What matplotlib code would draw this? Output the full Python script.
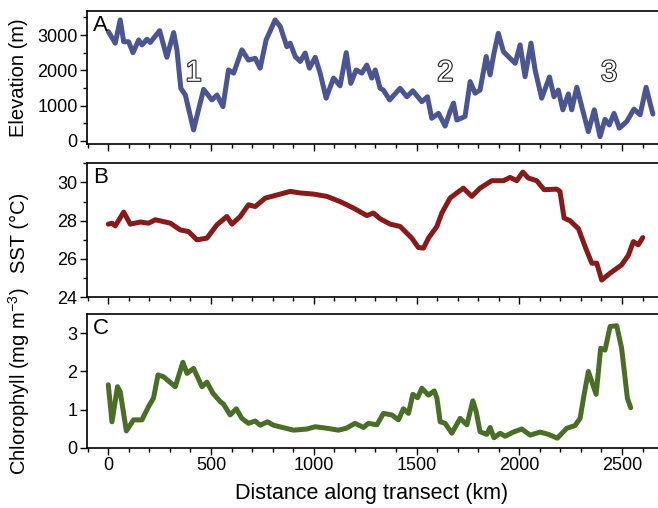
import matplotlib
matplotlib.use("Agg")
import matplotlib.pyplot as plt
import matplotlib.patheffects as pe
from matplotlib.ticker import MultipleLocator

plt.rcParams['font.family'] = ['Liberation Sans', 'DejaVu Sans']
plt.rcParams['mathtext.fontset'] = 'custom'
plt.rcParams['mathtext.rm'] = 'Liberation Sans'
plt.rcParams['mathtext.it'] = 'Liberation Sans:italic'
plt.rcParams['mathtext.bf'] = 'Liberation Sans:bold'
plt.rcParams['mathtext.default'] = 'regular'

# ---------------- data ----------------
elev_km = [0, 34, 58, 75, 99, 120, 148, 164, 188, 204, 250, 285, 318, 334, 353, 375, 415, 439, 464, 504,
           529, 558, 585, 610, 650, 682, 715, 739, 768, 812, 837, 869, 885, 910, 934, 958, 979, 1007, 1031,
           1060, 1096, 1128, 1158, 1180, 1206, 1234, 1258, 1282, 1299, 1323, 1339, 1369, 1420, 1453, 1482,
           1526, 1553, 1574, 1607, 1639, 1663, 1680, 1696, 1736, 1761, 1785, 1809, 1839, 1858, 1877, 1898,
           1923, 1955, 1980, 2004, 2028, 2057, 2077, 2109, 2147, 2169, 2190, 2212, 2239, 2255, 2280, 2304,
           2336, 2365, 2393, 2417, 2438, 2461, 2487, 2523, 2558, 2588, 2617, 2650]
elev_m = [3100, 2770, 3430, 2810, 2810, 2500, 2860, 2720, 2880, 2790, 3125, 2370, 3070, 2580, 1490, 1300,
          310, 880, 1460, 1160, 1300, 970, 2010, 1920, 2580, 2290, 2340, 2060, 2860, 3430, 3240, 2670, 2770,
          2390, 2250, 2490, 2060, 2370, 1920, 1210, 1780, 1560, 2500, 1630, 2010, 1920, 2150, 1780, 2010,
          1490, 1440, 1160, 1490, 1250, 1420, 1110, 1250, 640, 780, 420, 830, 1070, 590, 690, 1680, 1350,
          1440, 2390, 1870, 2490, 3050, 2530, 2340, 2200, 2720, 1820, 2770, 2010, 1210, 1810, 1250, 1440,
          880, 1330, 880, 1520, 970, 260, 880, 120, 610, 450, 780, 360, 550, 900, 740, 1520, 760]

sst_km = [0, 18, 34, 75, 107, 156, 196, 229, 302, 350, 391, 431, 480, 529, 577, 602, 642, 682, 715, 764,
          837, 885, 934, 999, 1064, 1128, 1193, 1258, 1290, 1323, 1372, 1420, 1477, 1509, 1534, 1558, 1599,
          1623, 1663, 1696, 1728, 1769, 1809, 1866, 1923, 1955, 1988, 2017, 2044, 2085, 2121, 2182, 2198,
          2218, 2247, 2288, 2320, 2353, 2377, 2401, 2442, 2498, 2531, 2555, 2579, 2601]
sst_c = [27.82, 27.87, 27.73, 28.45, 27.82, 27.93, 27.87, 28.05, 27.87, 27.52, 27.43, 27.0, 27.09, 27.79,
         28.22, 27.82, 28.22, 28.83, 28.74, 29.18, 29.39, 29.53, 29.45, 29.39, 29.27, 29.0, 28.66, 28.27,
         28.4, 28.1, 27.82, 27.7, 27.09, 26.6, 26.57, 27.09, 27.7, 28.4, 29.18, 29.45, 29.7, 29.27, 29.7,
         30.09, 30.09, 30.26, 30.09, 30.54, 30.23, 30.09, 29.62, 29.65, 29.53, 28.14, 28.0, 27.58, 26.65,
         25.78, 25.78, 24.9, 25.26, 25.69, 26.2, 26.91, 26.74, 27.12]

chl_km = [0, 18, 45, 58, 88, 123, 164, 196, 220, 242, 269, 326, 363, 383, 415, 456, 480, 509, 545, 561,
          593, 623, 650, 682, 715, 739, 775, 804, 901, 966, 1007, 1064, 1120, 1158, 1201, 1242, 1266, 1307,
          1339, 1380, 1412, 1436, 1461, 1482, 1505, 1526, 1558, 1586, 1599, 1615, 1639, 1672, 1712, 1745,
          1774, 1790, 1809, 1842, 1858, 1877, 1907, 1931, 1971, 2012, 2053, 2101, 2142, 2185, 2231, 2271,
          2296, 2315, 2336, 2374, 2396, 2417, 2442, 2474, 2498, 2526, 2542]
chl_mg = [1.65, 0.68, 1.6, 1.47, 0.44, 0.73, 0.73, 1.08, 1.3, 1.91, 1.86, 1.6, 2.24, 1.95, 2.08, 1.6,
          1.72, 1.43, 1.21, 1.14, 0.86, 1.02, 0.77, 0.64, 0.7, 0.59, 0.68, 0.59, 0.46, 0.49, 0.55, 0.51,
          0.46, 0.51, 0.64, 0.53, 0.64, 0.6, 0.9, 0.86, 0.73, 1.02, 0.9, 1.4, 1.31, 1.56, 1.38, 1.49, 1.31,
          0.68, 0.64, 0.38, 0.77, 0.6, 1.23, 0.95, 0.42, 0.35, 0.53, 0.26, 0.38, 0.3, 0.41, 0.49, 0.33,
          0.41, 0.35, 0.25, 0.51, 0.58, 0.77, 1.38, 2.0, 1.4, 2.61, 2.56, 3.18, 3.2, 2.61, 1.3, 1.05]

region_labels = ["1", "2", "3"]
region_km = [415, 1640, 2437]
region_y = 1930

panel_letters = ["A", "B", "C"]
x_ticks = [0, 500, 1000, 1500, 2000, 2500]

# ---------------- figure ----------------
fig = plt.figure(figsize=(6.58, 5.08), dpi=100)
left, width = 0.1327, 0.8673
axA = fig.add_axes([left, 0.7165, width, 0.2624])
axB = fig.add_axes([left, 0.4148, width, 0.2638])
axC = fig.add_axes([left, 0.1187, width, 0.2626])

c_elev = '#4B5591'
c_sst = '#871A1A'
c_chl = '#4A6E28'
lw = 3.6

axA.plot(elev_km, elev_m, color=c_elev, lw=lw, solid_joinstyle='round', solid_capstyle='round')
axB.plot(sst_km, sst_c, color=c_sst, lw=lw, solid_joinstyle='round', solid_capstyle='round')
axC.plot(chl_km, chl_mg, color=c_chl, lw=lw, solid_joinstyle='round', solid_capstyle='round')

axA.set_ylim(-90, 3690)
axA.yaxis.set_major_locator(MultipleLocator(1000))
axA.yaxis.set_minor_locator(MultipleLocator(500))
axB.set_ylim(24, 31)
axB.yaxis.set_major_locator(MultipleLocator(2))
axB.yaxis.set_minor_locator(MultipleLocator(1))
axC.set_ylim(0, 3.5)
axC.yaxis.set_major_locator(MultipleLocator(1))

for ax, letter in zip([axA, axB, axC], panel_letters):
    ax.set_xlim(-102, 2675)
    ax.set_xticks(x_ticks)
    ax.xaxis.set_minor_locator(MultipleLocator(100))
    ax.spines['right'].set_visible(False)
    for s in ['left', 'bottom', 'top']:
        ax.spines[s].set_linewidth(1.2)
    ax.tick_params(which='major', direction='out', length=5, width=1.0, labelsize=13, pad=2)
    ax.tick_params(which='minor', direction='out', length=3, width=1.0)
    ax.text(0.01, 0.97, letter, transform=ax.transAxes, fontsize=16, va='top', ha='left')

axA.tick_params(axis='x', labelbottom=False)
axB.tick_params(axis='x', labelbottom=False)

for lab, xk in zip(region_labels, region_km):
    axA.text(xk, region_y, lab, fontsize=21, color='white', ha='center', va='center',
             path_effects=[pe.withStroke(linewidth=1.6, foreground='#222222')])

lab_x = 19 / 658
axA.set_ylabel('Elevation (m)', fontsize=14.5, va='center')
axA.yaxis.set_label_coords(lab_x, 1 - 77.5 / 508, transform=fig.transFigure)
axB.set_ylabel('SST (\u00b0C)', fontsize=14.5, va='center')
axB.yaxis.set_label_coords(lab_x, 1 - 233 / 508, transform=fig.transFigure)
axC.set_ylabel('Chlorophyll (mg m$^{-3}$)', fontsize=14.5, va='center')
axC.yaxis.set_label_coords(lab_x, 1 - 381 / 508, transform=fig.transFigure)
axC.set_xlabel('Distance along transect (km)', fontsize=15.5, va='center')
axC.xaxis.set_label_coords(372 / 658, 1 - 493 / 508, transform=fig.transFigure)

fig.savefig('out.png', dpi=100)
